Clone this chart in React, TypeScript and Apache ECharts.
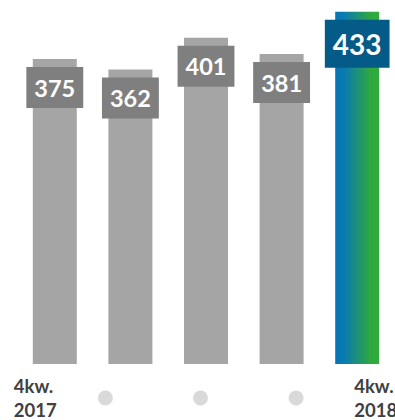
import React, { useEffect, useRef } from "react";
import * as echarts from "echarts";

const categories = ["4kw.\n2017", "1kw.\n2018", "2kw.\n2018", "3kw.\n2018", "4kw.\n2018"];
const values = [375, 362, 401, 381, 433];

export default function App() {
  const ref = useRef<HTMLDivElement>(null);
  useEffect(() => {
    if (!ref.current) return;
    const chart = echarts.init(ref.current, null, { renderer: "svg" });
    const font = "Lato";
    const gradient = new echarts.graphic.LinearGradient(0, 0, 1, 0, [
      { offset: 0, color: "#0677b6" },
      { offset: 0.2, color: "#0a7ab2" },
      { offset: 0.8, color: "#2ea83f" },
      { offset: 1, color: "#33ab3b" },
    ]);
    const last = values.length - 1;
    chart.setOption({
      animation: false,
      grid: { left: 17, right: 0, top: -2, bottom: 56, containLabel: false, outerBoundsMode: "none" },
      xAxis: {
        type: "category",
        data: categories.map((c, i) => {
          if (i === 0) return { value: c, textStyle: { align: "right" } };
          if (i === last) return { value: c, textStyle: { align: "left", padding: [0, 0, 0, -3] } };
          return { value: c };
        }),
        axisLine: { show: false },
        axisTick: { show: false },
        axisLabel: {
          interval: 0,
          margin: 10,
          hideOverlap: false,
          color: "#404040",
          fontFamily: font,
          fontWeight: "bold",
          fontSize: 18.5,
          lineHeight: 24,
          formatter: (v: string, i: number) => {
            if (i === 1) return "{dot|}{sp1|}";
            if (i === 2) return "{dot|}{sp2|}";
            if (i === 3) return "{sp3|}{dot|}";
            return v
              .split("\n")
              .map((s) => "{l|" + s + "}")
              .join("\n");
          },
          rich: {
            l: { width: 41, align: "left", lineHeight: 24, fontSize: 18.5, fontWeight: "bold", fontFamily: font, color: "#404040" },
            dot: { width: 15, height: 15, borderRadius: 7.5, backgroundColor: "#d9d9d9", lineHeight: 48 },
            sp1: { width: 50, height: 15, lineHeight: 48 },
            sp2: { width: 11, height: 15, lineHeight: 48 },
            sp3: { width: 29, height: 15, lineHeight: 48 },
          },
        },
      },
      yAxis: {
        type: "value",
        min: 0,
        max: 450,
        show: false,
        splitLine: { show: false },
      },
      series: [
        {
          type: "bar",
          barWidth: 44,
          data: values.map((v, i) =>
            i === last
              ? {
                  value: v,
                  itemStyle: { color: gradient },
                  label: {
                    fontSize: 28,
                    lineHeight: 30,
                    padding: [9, 8, 9, 8],
                    backgroundColor: "#045b88",
                  },
                }
              : { value: v }
          ),
          itemStyle: { color: "#a5a5a5" },
          label: {
            show: true,
            position: "insideTop",
            distance: 8,
            color: "#ffffff",
            fontFamily: font,
            fontWeight: "bold",
            fontSize: 23.5,
            lineHeight: 25,
            padding: [8, 8, 8, 8],
            backgroundColor: "#7f7f7f",
          },
        },
      ],
    });
    return () => chart.dispose();
  }, []);
  return <div ref={ref} style={{ width: 395, height: 420, position: "absolute", left: 0, top: 0 }} />;
}
